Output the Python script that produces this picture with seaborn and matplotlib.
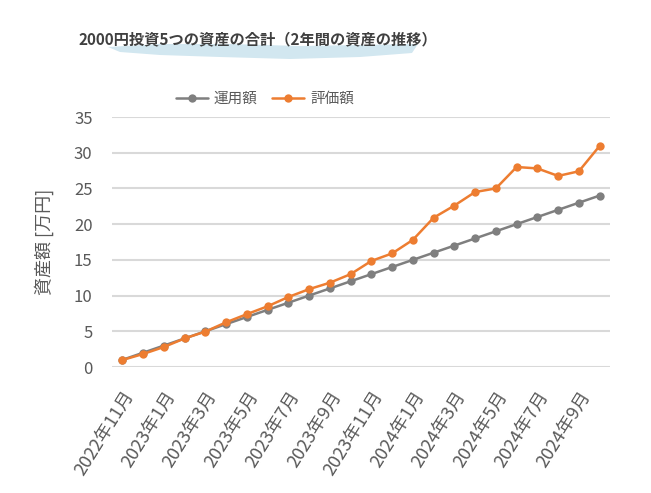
import pandas as pd
import matplotlib.pyplot as plt
import seaborn as sns
from matplotlib.patches import Polygon

# data
months = ['2022年11月', '2022年12月', '2023年1月', '2023年2月', '2023年3月', '2023年4月',
          '2023年5月', '2023年6月', '2023年7月', '2023年8月', '2023年9月', '2023年10月',
          '2023年11月', '2023年12月', '2024年1月', '2024年2月', '2024年3月', '2024年4月',
          '2024年5月', '2024年6月', '2024年7月', '2024年8月', '2024年9月', '2024年10月']
invested = [1, 2, 3, 4, 5, 6, 7, 8, 9, 10, 11, 12,
            13, 14, 15, 16, 17, 18, 19, 20, 21, 22, 23, 24]
valuation = [0.98, 1.82, 2.8, 4.0, 4.96, 6.26, 7.4, 8.5, 9.8, 10.9, 11.8, 13.0,
             14.85, 15.9, 17.8, 20.9, 22.6, 24.5, 25.0, 28.0, 27.8, 26.75, 27.4, 30.95]
series_names = ['運用額', '評価額']
colors = ['#7f7f7f', '#ed7d31']

df = pd.DataFrame({
    'month': months * 2,
    'value': invested + valuation,
    'series': [series_names[0]] * len(months) + [series_names[1]] * len(months),
})

sns.set_theme(style='white')
plt.rcParams['font.family'] = ['Noto Sans CJK JP', 'DejaVu Sans']

fig = plt.figure(figsize=(6.51, 4.93), dpi=100)
ax = fig.add_axes([112 / 651, 1 - 367 / 493, (610 - 112) / 651, (367 - 117) / 493])

# light blue brush stroke behind the title (pixel coords, y from top)
stroke = [(108, 47), (160, 44), (230, 44), (300, 46), (360, 45), (418, 44),
          (412, 53), (360, 57), (290, 59), (220, 57), (160, 55), (120, 52)]
wave = Polygon([(x / 100, (493 - y) / 100) for x, y in stroke], closed=True,
               transform=fig.dpi_scale_trans, facecolor='#d2e7f0', edgecolor='none')
fig.patches.append(wave)

fig.text(258 / 651, 1 - 39 / 493, '2000円投資5つの資産の合計（2年間の資産の推移）',
         ha='center', va='center', fontsize=11, fontweight='bold', color='#404040')

sns.lineplot(data=df, x='month', y='value', hue='series', palette=colors,
             marker='o', markersize=6, markeredgewidth=0, linewidth=1.8,
             sort=False, ax=ax)

ax.set_ylim(0, 35)
ax.set_xlim(-0.5, len(months) - 0.5)
ax.set_yticks(range(0, 36, 5))
ax.yaxis.grid(True, color='#d9d9d9', linewidth=1.5)
ax.xaxis.grid(False)
for s in ax.spines.values():
    s.set_visible(False)

ax.set_xticks(range(0, len(months), 2))
ax.set_xticklabels(months[::2], rotation=58, ha='right', rotation_mode='anchor')
ax.tick_params(axis='x', labelsize=13, labelcolor='#595959', pad=15, length=0)
ax.tick_params(axis='y', labelsize=12, labelcolor='#595959', pad=14, length=0)

ax.set_xlabel('')
ax.set_ylabel('資産額 [万円]', fontsize=13, color='#595959', labelpad=14)

handles, labels = ax.get_legend_handles_labels()
ax.legend(handles, labels, loc='center', bbox_to_anchor=(265 / 651, 1 - 99 / 493),
          bbox_transform=fig.transFigure, ncol=2, frameon=False, fontsize=10.5,
          labelcolor='#595959', handlelength=2.2, columnspacing=1.0, handletextpad=0.4)

fig.savefig('out.png', dpi=100)
